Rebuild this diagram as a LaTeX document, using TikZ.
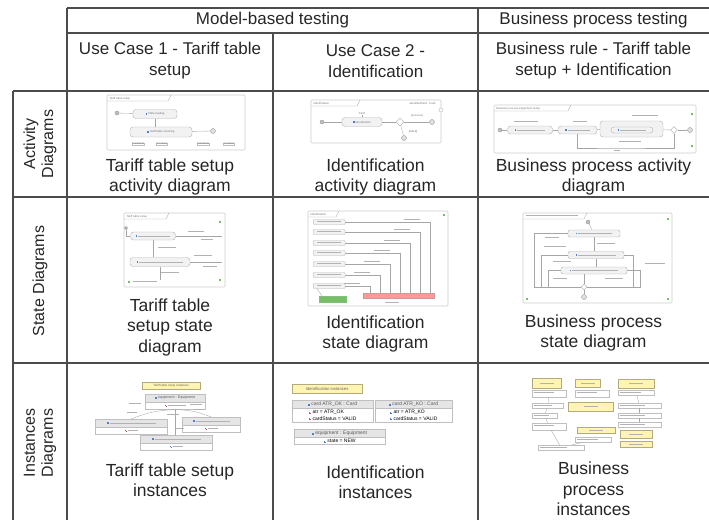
\documentclass[tikz,border=0pt]{standalone}
\usepackage{fontspec}
\setmainfont{Liberation Sans}
\usetikzlibrary{shapes.geometric,shapes.multipart}
\definecolor{notey}{RGB}{255,244,178}
\definecolor{iconblue}{RGB}{70,130,210}
\definecolor{iconred}{RGB}{220,70,60}
\definecolor{okgreen}{RGB}{120,190,100}
\newcommand{\actico}{\textcolor{iconblue}{\rule{1.6pt}{1.6pt}}}
\newcommand{\attico}{\textcolor{iconblue}{\rule{1.4pt}{1.8pt}}\textcolor{iconred}{\rule{0.9pt}{0.9pt}}}
\newcommand{\txtbar}[1]{\textcolor{black!30}{\rule[0.2pt]{#1}{1.1pt}}}

\begin{document}
\begin{tikzpicture}[x=1pt,y=-1pt]
    \tikzset{tabline/.style={draw=black!70, line width=1.1pt}}
    \tikzset{headtext/.style={font=\fontsize{17}{21}\selectfont, align=center, text=black!85}}
    \tikzset{captext/.style={font=\fontsize{17.5}{20.5}\selectfont, align=center, text=black!85}}
    \tikzset{sidetext/.style={font=\fontsize{16}{18}\selectfont, align=center, rotate=90, text=black!85}}
    \tikzset{thumb/.style={draw=black!20, line width=0.6pt, rounded corners=1pt}}
    \tikzset{minitext/.style={font=\fontsize{2.8}{3.2}\selectfont, text=black!55, inner sep=0.3pt}}
    \tikzset{act/.style={draw=black!30, fill=black!5, line width=0.4pt, rounded corners=3pt, inner sep=0.8pt, font=\fontsize{2.8}{3.2}\selectfont, text=black!55}}
    \tikzset{start/.style={circle, draw=black!40, fill=black!25, inner sep=0pt, minimum size=4pt}}
    \tikzset{final/.style={circle, draw=black!40, fill=black!12, inner sep=0pt, minimum size=5pt}}
    \tikzset{decide/.style={diamond, draw=black!35, fill=white, inner sep=0pt, minimum size=8pt}}
    \tikzset{wire/.style={draw=black!35, line width=0.35pt}}
    \tikzset{memo/.style={fill=notey, draw=notey!70!black, line width=0.3pt, inner sep=1pt, anchor=north west, font=\fontsize{3}{3.6}\selectfont, text=black!60}}
    \tikzset{objbox/.style={rectangle split, rectangle split parts=2, draw=black!25, line width=0.4pt, rectangle split part fill={black!10,white}, inner sep=1.4pt, anchor=north west, align=left, font=\fontsize{3.6}{4.4}\selectfont, text=black!65}}
    \tikzset{greensq/.style={fill=okgreen, draw=none, minimum size=2pt, inner sep=0pt}}

    \useasboundingbox (0,0) rectangle (709,520);

    \draw[tabline] (67,8) -- (709,8);
    \draw[tabline] (67,33) -- (709,33);
    \draw[tabline] (13,91) -- (709,91);
    \draw[tabline] (13,197) -- (709,197);
    \draw[tabline] (13,363) -- (709,363);
    \draw[tabline] (13,91) -- (13,520);
    \draw[tabline] (67,8) -- (67,520);
    \draw[tabline] (273,33) -- (273,520);
    \draw[tabline] (478,8) -- (478,520);

    \node[headtext] (mbt) at (272.5,20.5) {Model-based testing};
    \node[headtext] (bpt) at (593.5,20.5) {Business process testing};
    \node[headtext] (uc1) at (170,61) {Use Case 1 - Tariff table\\setup};
    \node[headtext] (uc2) at (375.5,61) {Use Case 2 -\\Identification};
    \node[headtext] (brule) at (593.5,61) {Business rule - Tariff table\\setup + Identification};

    \node[sidetext] (sideact) at (40,144) {Activity\\Diagrams};
    \node[sidetext] (sidestate) at (40,281) {State Diagrams};
    \node[sidetext] (sideinst) at (40,443) {Instances\\Diagrams};

    \node[captext] (capact1) at (170,177) {Tariff table setup\\activity diagram};
    \node[captext] (capact2) at (375.5,177) {Identification\\activity diagram};
    \node[captext] (capact3) at (593.5,177) {Business process activity\\diagram};
    \node[captext] (capst1) at (170,327) {Tariff table\\setup state\\diagram};
    \node[captext] (capst2) at (375.5,334) {Identification\\state diagram};
    \node[captext] (capst3) at (593.5,333) {Business process\\state diagram};
    \node[captext] (capin1) at (170,480) {Tariff table setup\\instances};
    \node[captext] (capin2) at (375.5,482) {Identification\\instances};
    \node[captext] (capin3) at (593.5,489) {Business\\process\\instances};

    % activity, use case 1
    \draw[thumb] (107,95) rectangle (245,150);
    \draw[wire] (107,101) -- (168,101) -- (171,95);
    \node[minitext, anchor=north west] (a1title) at (109,96.5) {Tariff table setup};
    \node[start] (a1s) at (117,113) {};
    \node[act, minimum width=44pt, minimum height=9pt] (a1load) at (155,114) {\actico\ Table loading};
    \node[act, minimum width=62pt, minimum height=10pt] (a1check) at (161,132) {\actico\ Tariff table checking};
    \node[final] (a1e) at (213,131) {};
    \draw[wire] (a1s) -- (a1load);
    \draw[wire] (a1load.south) -- (a1load.south |- a1check.north);
    \draw[wire] (a1check) -- (a1e);
    \foreach \x/\t in {138/Contracts, 162/Contract, 203/Contracts, 229/Contract}
        \node[minitext, draw=black!25] (a1pin\x) at (\x,144) {\t};

    % activity, use case 2
    \draw[thumb] (311,100) rectangle (441,143);
    \draw[wire] (311,106) -- (357,106) -- (360,100);
    \node[minitext, anchor=north west] (a2title) at (313,101.5) {Identification};
    \node[minitext, anchor=north east] (a2card) at (436,101.5) {identifiedCard : Card};
    \node[start] (a2s) at (322,122) {};
    \node[act, minimum width=40pt, minimum height=9pt] (a2id) at (362,122) {\actico\ Identification};
    \node[minitext] (a2pin) at (362,113) {Card};
    \node[decide] (a2dec) at (400,122) {};
    \node[final] (a2ok) at (432,122) {};
    \node[final] (a2ko) at (404,138) {};
    \node[minitext] (a2succ) at (417,116) {[success]};
    \node[minitext] (a2fail) at (413,132) {[failed]};
    \node[circle, draw=black!30, fill=white, inner sep=0pt, minimum size=4pt] (a2port) at (441,110) {};
    \draw[wire] (a2s) -- (a2id);
    \draw[wire] (a2pin) -- (a2id);
    \draw[wire] (a2id) -- (a2dec);
    \draw[wire] (a2dec) -- (a2ok);
    \draw[wire] (a2dec) -- (a2ko);

    % activity, business rule
    \draw[thumb] (494,105) rectangle (696,153);
    \draw[wire] (494,111) -- (568,111) -- (571,105);
    \node[minitext, anchor=north west] (a3title) at (496,106.5) {Business process equipment setup};
    \node[start] (a3s) at (500,130) {};
    \node[act, minimum width=45pt, minimum height=8pt] (a3tt) at (530,130) {\actico\ \txtbar{28pt}};
    \node[act, minimum width=39pt, minimum height=8pt] (a3id) at (577.5,130) {\actico\ \txtbar{22pt}};
    \node[act, minimum width=63pt, minimum height=16pt] (a3pur) at (631.5,129) {};
    \node[act, minimum width=42pt, minimum height=6pt] (a3in) at (632,130) {\actico\ \txtbar{26pt}};
    \node[decide, minimum size=7pt] (a3dec) at (674,130) {};
    \node[final] (a3e) at (690,130) {};
    \node[minitext] (a3l1) at (526,122) {\txtbar{24pt}};
    \node[minitext] (a3l2) at (580,122) {\txtbar{14pt}};
    \node[minitext] (a3l3) at (645,116) {\txtbar{26pt}};
    \node[minitext] (a3l4) at (630,142) {\txtbar{22pt}};
    \node[minitext] (a3l5) at (617,151) {\txtbar{6pt}};
    \coordinate (a3loop) at (617,148);
    \draw[wire] (a3s) -- (a3tt);
    \draw[wire] (a3tt) -- (a3id);
    \draw[wire] (a3id) -- (a3pur);
    \draw[wire] (a3pur) -- (a3dec);
    \draw[wire] (a3dec) -- (a3e);
    \draw[wire] (a3id.south) |- (a3loop) -| (a3dec.south);
    \node[greensq] (a3g1) at (692,114) {};
    \node[greensq] (a3g2) at (692,146) {};

    % state, use case 1
    \draw[thumb] (124,213) rectangle (225,287);
    \draw[wire] (124,219) -- (166,219) -- (169,213);
    \node[minitext, anchor=north west] (s1title) at (126,214.5) {Tariff table setup};
    \node[start, minimum size=3pt] (s1s) at (126,228) {};
    \node[act, minimum width=45pt, minimum height=8pt] (s1load) at (153,236) {\actico\ \txtbar{32pt}};
    \node[act, minimum width=60pt, minimum height=9pt] (s1check) at (160,262) {\actico\ \txtbar{44pt}};
    \draw[wire] (s1s) |- (s1load);
    \draw[wire] (s1load.south) -- (s1load.south |- s1check.north);
    \draw[wire] (s1load.east) -- (222,236);
    \draw[wire] (s1check.east) -- (222,262);
    \draw[wire] (s1check.south) -- (160,280);
    \node[minitext] (s1l1) at (167,248) {\txtbar{18pt}};
    \node[minitext] (s1l2) at (196,232) {\txtbar{16pt}};
    \node[minitext] (s1l3) at (207,240) {\txtbar{12pt}};
    \node[minitext] (s1l4) at (203,256) {\txtbar{18pt}};
    \node[minitext] (s1l5) at (210,267) {\txtbar{14pt}};
    \node[minitext] (s1l6) at (170,273) {\txtbar{18pt}};
    \node[greensq] (s1end) at (129,282) {};
    \node[minitext, anchor=west] (s1done) at (132,282) {\txtbar{24pt}};
    \node[greensq] (s1g1) at (220,222) {};
    \node[greensq] (s1g2) at (220,280) {};

    % state, use case 2
    \draw[thumb] (308,211) rectangle (448,306);
    \draw[wire] (308,217) -- (336,217) -- (339,211);
    \node[minitext, anchor=north west] (s2title) at (310,212.5) {Identification};
    \node[fill=okgreen, draw=green!50!black!50, minimum width=27pt, minimum height=6pt, inner sep=0pt, anchor=north west] (s2ok) at (319,296) {};
    \node[fill=red!40, draw=red!50!black!40, minimum width=71pt, minimum height=5pt, inner sep=0pt, anchor=north west] (s2ko) at (363,293) {};
    \foreach \y/\xe [count=\i] in {222/430, 232/420, 243/410, 253/400, 264/390, 275/380, 286/370} {
        \node[act, rounded corners=1pt, minimum width=32pt, minimum height=5pt, anchor=west] (s2st\i) at (313,\y) {\txtbar{24pt}};
        \draw[wire] (s2st\i.east) -- (\xe,\y) -- (\xe,293);
        \node[minitext] (s2lab\i) at (\xe-18,\y-2.5) {\txtbar{16pt}};
    }
    \draw[wire] ([xshift=4pt]s2st7.south west) -- ([xshift=3pt]s2ok.north west);
    \node[minitext] (s2bot) at (392,303) {\txtbar{14pt}};
    \node[greensq] (s2g1) at (444,215) {};

    % state, business rule
    \draw[thumb] (523,213) rectangle (672,303);
    \draw[wire] (523,219) -- (584,219) -- (587,213);
    \node[minitext, anchor=north west] (s3title) at (525,214.5) {\txtbar{52pt}};
    \node[start] (s3s) at (588,222) {};
    \node[act, rounded corners=1.5pt, minimum width=52pt, minimum height=7pt] (s3a) at (594,233.5) {\actico\ \txtbar{34pt}};
    \node[act, rounded corners=1.5pt, minimum width=56pt, minimum height=7pt] (s3b) at (596,255) {\actico\ \txtbar{38pt}};
    \node[act, rounded corners=1.5pt, minimum width=66pt, minimum height=7pt] (s3c) at (594,270.5) {\actico\ \txtbar{46pt}};
    \node[decide, minimum size=6pt] (s3m) at (584,287) {};
    \node[final] (s3e) at (584,297) {};
    \draw[wire] (s3s) -- (s3a);
    \draw[wire] (s3a.south) -- (s3a.south |- s3b.north);
    \draw[wire] (s3b.south) -- (s3b.south |- s3c.north);
    \draw[wire] (s3c.south -| s3m) -- (s3m);
    \draw[wire] (s3m) -- (s3e);
    \draw[wire] (s3a.west) -| (534,287) -- (s3m.west);
    \draw[wire] (s3b.west) -| (541,287);
    \draw[wire] (s3c.west) -| (548,287);
    \draw[wire] (s3c.east) -| (640,287) -- (s3m.east);
    \draw[wire] (s3b.east) -| (633,287);
    \node[minitext] (s3l1) at (552,238) {\txtbar{14pt}};
    \node[minitext] (s3l2) at (606,244) {\txtbar{18pt}};
    \node[minitext] (s3l3) at (555,247) {\txtbar{22pt}};
    \node[minitext] (s3l4) at (562,262) {\txtbar{18pt}};
    \node[minitext] (s3l5) at (655,264) {\txtbar{20pt}};
    \node[minitext] (s3l6) at (560,279) {\txtbar{14pt}};
    \node[minitext] (s3l7) at (614,279) {\txtbar{18pt}};
    \node[greensq] (s3g1) at (668,219) {};
    \node[greensq] (s3g2) at (668,299) {};
    \node[greensq] (s3g3) at (527,299) {};

    % instances, use case 1
    \node[memo, minimum width=58pt, minimum height=7pt] (i1note) at (142,382) {Tariff table setup instances};
    \node[objbox, minimum width=60pt] (i1eq) at (145,394) {\strut\actico\ equipment : Equipment \nodepart{second} \strut\attico\ \txtbar{18pt}};
    \node[objbox, minimum width=72pt] (i1c1) at (95,419) {\strut\actico\ \txtbar{46pt} \nodepart{second} \strut\attico\ \txtbar{10pt}};
    \node[objbox, minimum width=58pt] (i1c2) at (182,417) {\strut\actico\ \txtbar{34pt} \nodepart{second} \strut\attico\ \txtbar{10pt}};
    \node[objbox, minimum width=72pt] (i1c3) at (140,435) {\strut\actico\ \txtbar{46pt} \nodepart{second} \strut\attico\ \txtbar{10pt}};
    \draw[wire] (i1eq.south) to[bend right=10] (i1c1.north);
    \draw[wire] (i1eq.south) to[bend left=10] (i1c2.north);
    \draw[wire] (i1eq.south) -- (i1eq.south |- i1c3.north);
    \node[minitext] (i1l1) at (135,404) {\txtbar{12pt}};
    \node[minitext] (i1l2) at (196,405) {\txtbar{12pt}};
    \node[minitext] (i1l3) at (132,413) {\txtbar{10pt}};
    \node[minitext] (i1l4) at (173,415) {\txtbar{12pt}};
    \node[minitext] (i1l5) at (199,410) {\txtbar{10pt}};
    \node[minitext] (i1l6) at (180,429) {\txtbar{8pt}};

    % instances, use case 2
    \node[memo, minimum width=70pt, minimum height=9pt, font=\fontsize{4.2}{5}\selectfont] (i2note) at (292,384) {Identification instances};
    \node[objbox, minimum width=81pt, inner sep=1.6pt, font=\fontsize{5}{6.4}\selectfont] (i2ok) at (292,400) {\actico\ card ATR\_OK : Card \nodepart{second} \attico\ atr = ATR\_OK\\\attico\ cardStatus = VALID};
    \node[objbox, minimum width=77pt, inner sep=1.6pt, font=\fontsize{5}{6.4}\selectfont] (i2ko) at (375,400) {\actico\ card ATR\_KO : Card \nodepart{second} \attico\ atr = ATR\_KO\\\attico\ cardStatus = VALID};
    \node[objbox, minimum width=91pt, inner sep=1.6pt, font=\fontsize{5}{6.4}\selectfont] (i2eq) at (294,429) {\actico\ equipment : Equipment \nodepart{second} \attico\ state = NEW};

    % instances, business rule
    \foreach \x/\y/\w/\h [count=\i] in {532/378/29/10, 575/379/25/8, 618/379/36/9, 568/402/45/9, 577/427/38/6, 620/430/32/8, 620/441/32/6}
        \node[memo, minimum width=\w, minimum height=\h, inner sep=0pt] (i3n\i) at (\x,\y) {\txtbar{14pt}};
    \foreach \x/\y/\w/\h [count=\i] in {532/390/34/7, 575/390/34/7, 618/390/36/5, 532/403/31/5, 532/413/25/5, 532/423/34/7, 575/437/36/5, 538/445/46/5, 618/403/43/5, 618/413/43/5, 618/422/43/5} {
        \node[draw=black!25, fill=white, line width=0.3pt, minimum width=\w, minimum height=\h, inner sep=0pt, anchor=north west] (i3o\i) at (\x,\y) {};
        \draw[black!30, line width=0.8pt] ([shift={(1.5,2)}]i3o\i.north west) -- ++(0.6*\w,0);
    }
    \draw[wire] (i3o1) -- (i3o4);
    \draw[wire] (i3o4) -- (i3o5);
    \draw[wire] (i3o5) -- (i3o6);
    \draw[wire] (i3o6) -- (i3o8);
    \draw[wire] (i3o7) -- (i3o8);
    \draw[wire] (i3o3) -- (i3o9);
    \draw[wire] (i3o9) -- (i3o10);
    \draw[wire] (i3o10) -- (i3o11);
\end{tikzpicture}
\end{document}
